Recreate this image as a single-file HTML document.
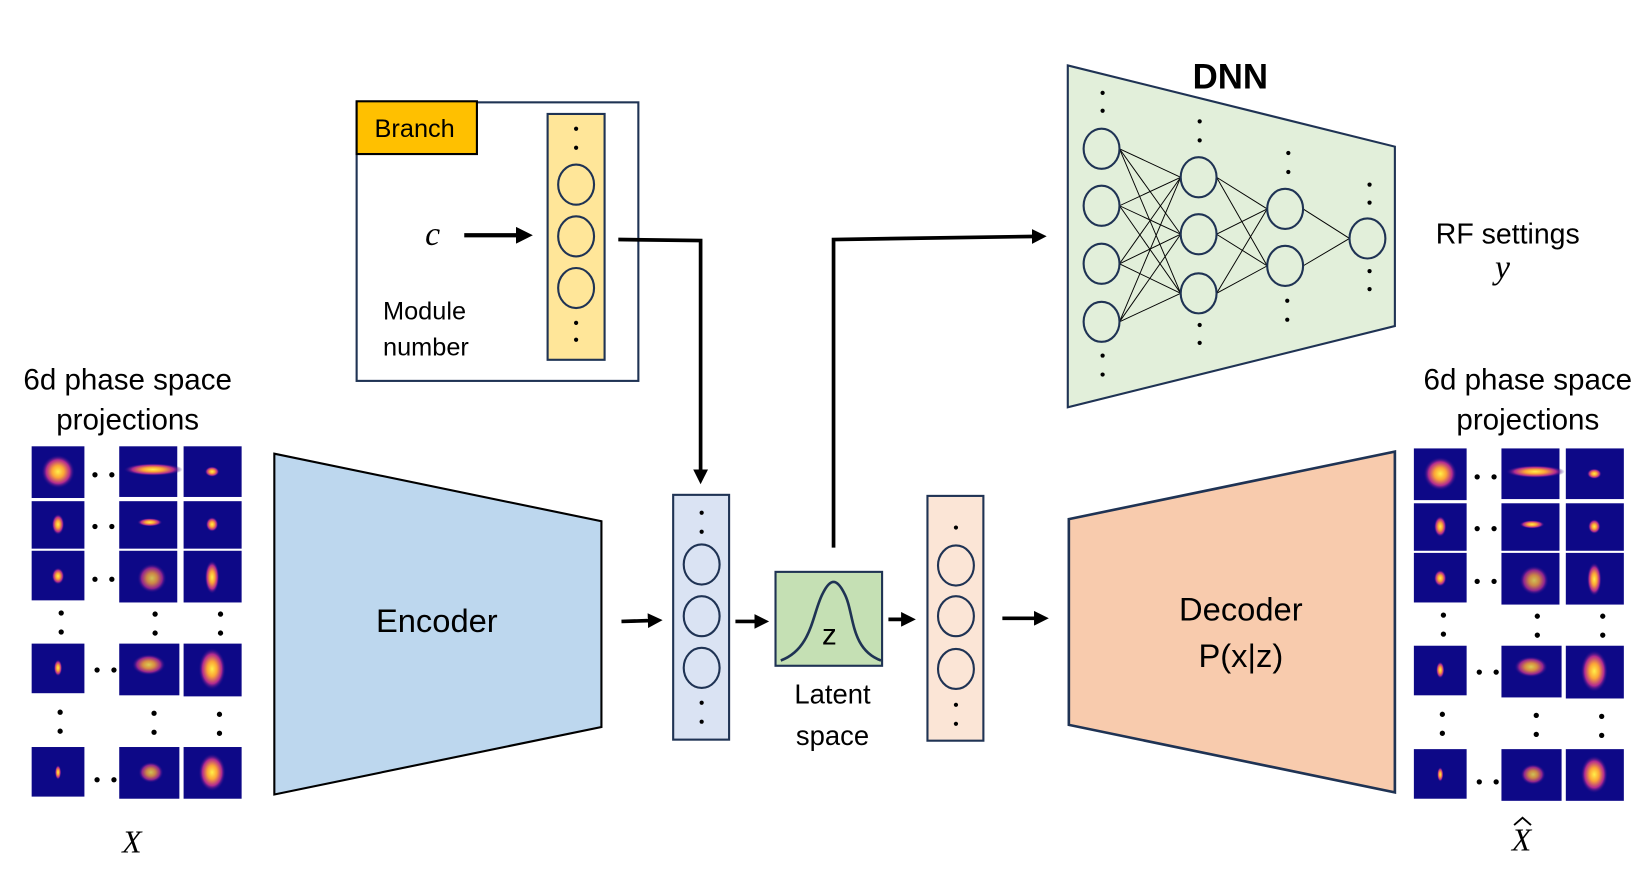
<!DOCTYPE html>
<html><head><meta charset="utf-8"><style>
html,body{margin:0;padding:0;background:#fff;}
svg{display:block;}
text{font-family:"Liberation Sans",sans-serif;fill:#000;}
</style></head><body>
<svg width="1646" height="896" viewBox="0 0 1560 849.2" preserveAspectRatio="none" xmlns="http://www.w3.org/2000/svg">
<defs>
<radialGradient id="g"><stop offset="0" stop-color="#fff04a"/><stop offset="0.35" stop-color="#fca636"/><stop offset="0.7" stop-color="#b12a90"/><stop offset="1" stop-color="#0d0887" stop-opacity="0"/></radialGradient>
<marker id="ah" markerWidth="4" markerHeight="4" refX="2" refY="2" orient="auto" markerUnits="strokeWidth"><path d="M0,0 L4,2 L0,4 z" fill="#000"/></marker>
</defs>
<rect width="1560" height="850" fill="#fff"/>

<g id="grid">
<rect x="30" y="423" width="50" height="49" fill="#0d0887"/><ellipse cx="55" cy="447" rx="16" ry="16" fill="url(#g)"/>
<rect x="113" y="423" width="55" height="48" fill="#0d0887"/><ellipse cx="145" cy="445" rx="28" ry="6" fill="url(#g)"/>
<rect x="174" y="423" width="55" height="48" fill="#0d0887"/><ellipse cx="201" cy="447" rx="7" ry="5" fill="url(#g)"/>
<rect x="30" y="475" width="50" height="45" fill="#0d0887"/><ellipse cx="55" cy="497" rx="6" ry="10" fill="url(#g)"/>
<rect x="113" y="475" width="55" height="45" fill="#0d0887"/><ellipse cx="142" cy="495" rx="12" ry="4" fill="url(#g)"/>
<rect x="174" y="475" width="55" height="45" fill="#0d0887"/><ellipse cx="201" cy="497" rx="6" ry="7" fill="url(#g)"/>
<rect x="30" y="522" width="50" height="47" fill="#0d0887"/><ellipse cx="55" cy="546" rx="6" ry="8" fill="url(#g)"/>
<rect x="113" y="522" width="55" height="49" fill="#0d0887"/><ellipse cx="144" cy="548" rx="14" ry="14" fill="url(#g)" opacity="0.8"/>
<rect x="174" y="522" width="55" height="49" fill="#0d0887"/><ellipse cx="201" cy="547" rx="7" ry="16" fill="url(#g)"/>
<rect x="30" y="610" width="50" height="47" fill="#0d0887"/><ellipse cx="55" cy="633" rx="4" ry="8" fill="url(#g)"/>
<rect x="113" y="610" width="57" height="49" fill="#0d0887"/><ellipse cx="141" cy="630" rx="16" ry="10" fill="url(#g)" opacity="0.85"/>
<rect x="174" y="610" width="55" height="50" fill="#0d0887"/><ellipse cx="201" cy="634" rx="13" ry="20" fill="url(#g)"/>
<rect x="30" y="708" width="50" height="47" fill="#0d0887"/><ellipse cx="55" cy="732" rx="3" ry="7" fill="url(#g)"/>
<rect x="113" y="708" width="57" height="49" fill="#0d0887"/><ellipse cx="143" cy="732" rx="12" ry="10" fill="url(#g)" opacity="0.8"/>
<rect x="174" y="708" width="55" height="49" fill="#0d0887"/><ellipse cx="201" cy="732" rx="13" ry="18" fill="url(#g)"/>
<g fill="#000">
<circle cx="90" cy="450" r="2.5"/><circle cx="106" cy="450" r="2.5"/>
<circle cx="90" cy="499" r="2.5"/><circle cx="106" cy="499" r="2.5"/>
<circle cx="90" cy="549" r="2.5"/><circle cx="106" cy="549" r="2.5"/>
<circle cx="92" cy="635" r="2.5"/><circle cx="108" cy="635" r="2.5"/>
<circle cx="92" cy="739" r="2.5"/><circle cx="108" cy="739" r="2.5"/>
<circle cx="58" cy="581" r="2.5"/><circle cx="58" cy="599" r="2.5"/>
<circle cx="147" cy="582" r="2.5"/><circle cx="147" cy="600" r="2.5"/>
<circle cx="209" cy="582" r="2.5"/><circle cx="209" cy="600" r="2.5"/>
<circle cx="57" cy="675" r="2.5"/><circle cx="57" cy="693" r="2.5"/>
<circle cx="146" cy="676" r="2.5"/><circle cx="146" cy="694" r="2.5"/>
<circle cx="208" cy="677" r="2.5"/><circle cx="208" cy="695" r="2.5"/>
</g>
</g>
<use href="#grid" transform="translate(1310,2)"/>

<text x="121" y="369" font-size="28" text-anchor="middle">6d phase space</text>
<text x="121" y="407" font-size="28" text-anchor="middle">projections</text>
<text x="1448" y="369" font-size="28" text-anchor="middle">6d phase space</text>
<text x="1448" y="407" font-size="28" text-anchor="middle">projections</text>
<text x="125" y="808" font-size="30" font-style="italic" text-anchor="middle" style="font-family:'Liberation Serif',serif">X</text>
<text x="1442" y="806" font-size="30" font-style="italic" text-anchor="middle" style="font-family:'Liberation Serif',serif">X</text>
<path d="M1435,782 L1443,775 L1451,782" fill="none" stroke="#000" stroke-width="1.8"/>

<polygon points="260,430 570,494 570,689 260,753" fill="#bdd7ee" stroke="#000" stroke-width="2"/>
<text x="414" y="599" font-size="31" text-anchor="middle">Encoder</text>

<polygon points="1013,492 1322,428 1322,751 1013,687" fill="#f8cbad" stroke="#1f3354" stroke-width="2.5"/>
<text x="1176" y="588" font-size="31" text-anchor="middle">Decoder</text>
<text x="1176" y="632" font-size="31" text-anchor="middle">P(x|z)</text>

<polygon points="1012,62 1322,139 1322,309 1012,386" fill="#e2efda" stroke="#1f3354" stroke-width="2"/>
<text x="1166" y="84" font-size="33" font-weight="bold" text-anchor="middle">DNN</text>
<g stroke="#000" stroke-width="0.9">
<line x1="1061" y1="141" x2="1119" y2="168"/><line x1="1061" y1="141" x2="1119" y2="222"/><line x1="1061" y1="141" x2="1119" y2="278"/>
<line x1="1061" y1="195" x2="1119" y2="168"/><line x1="1061" y1="195" x2="1119" y2="222"/><line x1="1061" y1="195" x2="1119" y2="278"/>
<line x1="1061" y1="250" x2="1119" y2="168"/><line x1="1061" y1="250" x2="1119" y2="222"/><line x1="1061" y1="250" x2="1119" y2="278"/>
<line x1="1061" y1="305" x2="1119" y2="168"/><line x1="1061" y1="305" x2="1119" y2="222"/><line x1="1061" y1="305" x2="1119" y2="278"/>
<line x1="1153" y1="168" x2="1201" y2="198"/><line x1="1153" y1="168" x2="1201" y2="252"/>
<line x1="1153" y1="222" x2="1201" y2="198"/><line x1="1153" y1="222" x2="1201" y2="252"/>
<line x1="1153" y1="278" x2="1201" y2="198"/><line x1="1153" y1="278" x2="1201" y2="252"/>
<line x1="1235" y1="198" x2="1279" y2="226"/><line x1="1235" y1="252" x2="1279" y2="226"/>
</g>
<g fill="#e2efda" stroke="#1f3354" stroke-width="2">
<ellipse cx="1044" cy="141" rx="17" ry="19"/><ellipse cx="1044" cy="195" rx="17" ry="19"/><ellipse cx="1044" cy="250" rx="17" ry="19"/><ellipse cx="1044" cy="305" rx="17" ry="19"/>
<ellipse cx="1136" cy="168" rx="17" ry="19"/><ellipse cx="1136" cy="222" rx="17" ry="19"/><ellipse cx="1136" cy="278" rx="17" ry="19"/>
<ellipse cx="1218" cy="198" rx="17" ry="19"/><ellipse cx="1218" cy="252" rx="17" ry="19"/>
<ellipse cx="1296" cy="226" rx="17" ry="19"/>
</g>
<g fill="#000">
<circle cx="1045" cy="88" r="2"/><circle cx="1045" cy="105" r="2"/><circle cx="1045" cy="337" r="2"/><circle cx="1045" cy="355" r="2"/>
<circle cx="1137" cy="115" r="2"/><circle cx="1137" cy="133" r="2"/><circle cx="1137" cy="308" r="2"/><circle cx="1137" cy="325" r="2"/>
<circle cx="1221" cy="145" r="2"/><circle cx="1221" cy="163" r="2"/><circle cx="1220" cy="285" r="2"/><circle cx="1220" cy="303" r="2"/>
<circle cx="1298" cy="175" r="2"/><circle cx="1298" cy="192" r="2"/><circle cx="1298" cy="257" r="2"/><circle cx="1298" cy="274" r="2"/>
</g>
<text x="1429" y="231" font-size="27" text-anchor="middle">RF settings</text>
<text x="1424" y="264" font-size="32" font-style="italic" text-anchor="middle" style="font-family:'Liberation Serif',serif">y</text>

<rect x="338" y="97" width="267" height="264" fill="#fff" stroke="#1f3354" stroke-width="2"/>
<rect x="338" y="96" width="114" height="50" fill="#ffc000" stroke="#000" stroke-width="2"/>
<text x="393" y="130" font-size="24" text-anchor="middle">Branch</text>
<rect x="519" y="108" width="54" height="233" fill="#ffe699" stroke="#1f3354" stroke-width="2"/>
<g fill="#ffe699" stroke="#1f3354" stroke-width="2">
<ellipse cx="546" cy="175" rx="17" ry="19"/><ellipse cx="546" cy="224" rx="17" ry="19"/><ellipse cx="546" cy="273" rx="17" ry="19"/>
</g>
<g fill="#000"><circle cx="546" cy="122" r="2"/><circle cx="546" cy="140" r="2"/><circle cx="546" cy="322" r="2"/><circle cx="546" cy="306" r="2"/></g>
<text x="410" y="232" font-size="32" font-style="italic" text-anchor="middle" style="font-family:'Liberation Serif',serif">c</text>
<text x="363" y="303" font-size="24">Module</text>
<text x="363" y="337" font-size="24">number</text>
<line x1="440" y1="223" x2="497" y2="223" stroke="#000" stroke-width="4" marker-end="url(#ah)"/>

<polyline points="586,227 664,228 664,452" fill="none" stroke="#000" stroke-width="3.5" marker-end="url(#ah)"/>
<polyline points="790,519 790,227 985,224" fill="none" stroke="#000" stroke-width="3.5" marker-end="url(#ah)"/>

<rect x="638" y="469" width="53" height="232" fill="#dae3f3" stroke="#1f3354" stroke-width="2"/>
<g fill="#dae3f3" stroke="#1f3354" stroke-width="2">
<ellipse cx="665" cy="535" rx="17" ry="19"/><ellipse cx="665" cy="584" rx="17" ry="19"/><ellipse cx="665" cy="633" rx="17" ry="19"/>
</g>
<g fill="#000"><circle cx="665" cy="486" r="2"/><circle cx="665" cy="504" r="2"/><circle cx="665" cy="666" r="2"/><circle cx="665" cy="684" r="2"/></g>

<rect x="735" y="542" width="101" height="89" fill="#c5e0b4" stroke="#1f3354" stroke-width="2"/>
<path d="M740,626 C770,615 770,580 780,562 C787,548 793,548 800,562 C810,580 805,615 835,626" fill="none" stroke="#1f3354" stroke-width="2.5"/>
<text x="786" y="611" font-size="28" text-anchor="middle">z</text>
<text x="789" y="667" font-size="26" text-anchor="middle">Latent</text>
<text x="789" y="706" font-size="26" text-anchor="middle">space</text>

<rect x="879" y="470" width="53" height="232" fill="#fbe5d6" stroke="#1f3354" stroke-width="2"/>
<g fill="#fbe5d6" stroke="#1f3354" stroke-width="2">
<ellipse cx="906" cy="536" rx="17" ry="19"/><ellipse cx="906" cy="584" rx="17" ry="19"/><ellipse cx="906" cy="634" rx="17" ry="19"/>
</g>
<g fill="#000"><circle cx="906" cy="500" r="2"/><circle cx="906" cy="668" r="2"/><circle cx="906" cy="686" r="2"/></g>

<g stroke="#000" stroke-width="3.5">
<line x1="589" y1="589" x2="621" y2="588" marker-end="url(#ah)"/>
<line x1="697" y1="589" x2="722" y2="589" marker-end="url(#ah)"/>
<line x1="842" y1="587" x2="861" y2="587" marker-end="url(#ah)"/>
<line x1="950" y1="586" x2="987" y2="586" marker-end="url(#ah)"/>
</g>
</svg>
</body></html>
